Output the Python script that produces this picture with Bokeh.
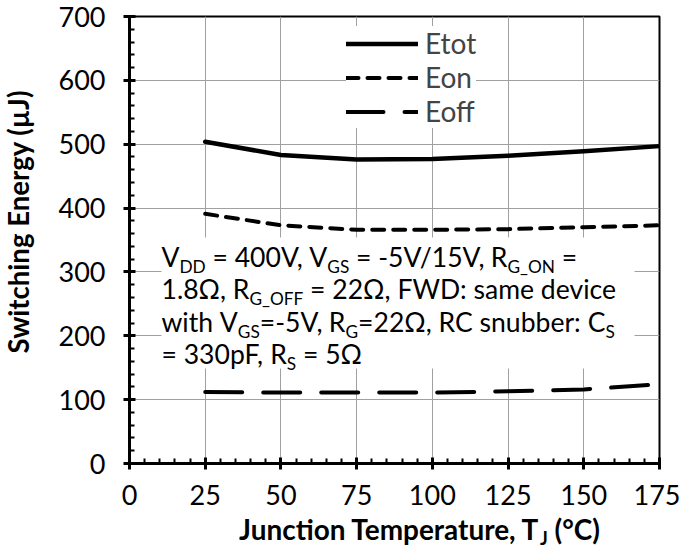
import os, glob, struct, subprocess
from math import pi
from bokeh.plotting import figure
from bokeh.layouts import row, column
from bokeh.models import (Label, Legend, LegendItem, FixedTicker, BoxAnnotation, Range1d)
from bokeh.embed import file_html
from bokeh.resources import INLINE

# ---------------- data ----------------
temps = [25, 50, 75, 100, 125, 150, 175]
etot = [504, 483, 476, 477, 482, 489, 497]
eon = [391, 373, 366, 366, 367, 370, 373]
eoff = [112, 111, 111, 111, 113, 116, 124]
series_names = ["Etot", "Eon", "Eoff"]
x_ticks = [0, 25, 50, 75, 100, 125, 150, 175]
y_ticks = [0, 100, 200, 300, 400, 500, 600, 700]
x_minor = [v for v in range(0, 176, 5)]
y_minor = [v for v in range(0, 701, 20)]
x_title = [("Junction Temperature, T", 0), ("J", 1), (" (\u00b0C)", 0)]
y_title = "Switching Energy (\u00b5J)"
note_lines = [
    [("V", 0), ("DD", 1), (" = 400V, V", 0), ("GS", 1), (" = -5V/15V, R", 0), ("G_ON", 1), (" =", 0)],
    [("1.8\u03a9, R", 0), ("G_OFF", 1), (" = 22\u03a9, FWD: same device", 0)],
    [("with V", 0), ("GS", 1), ("=-5V, R", 0), ("G", 1), ("=22\u03a9, RC snubber: C", 0), ("S", 1)],
    [("= 330pF, R", 0), ("S", 1), (" = 5\u03a9", 0)],
]


# ---------------- font metrics (for composing subscripts) ----------------
def find_font(names, fc_name):
    dirs = ["/usr/share/fonts", "/usr/local/share/fonts",
            os.path.expanduser("~/.fonts"), os.path.expanduser("~/.local/share/fonts")]
    for d in dirs:
        for n in names:
            hits = glob.glob(os.path.join(d, "**", n), recursive=True)
            if hits:
                return hits[0]
    try:
        out = subprocess.run(["fc-match", "-f", "%{file}", fc_name],
                             capture_output=True, text=True, timeout=5).stdout.strip()
        if out and os.path.exists(out):
            return out
    except Exception:
        pass
    return None


def load_metrics(path):
    try:
        data = open(path, "rb").read()
        num = struct.unpack(">H", data[4:6])[0]
        tables = {}
        for i in range(num):
            tag, cs, off, ln = struct.unpack(">4sIII", data[12 + 16 * i:28 + 16 * i])
            tables[tag.decode("latin1")] = off
        head = tables["head"]
        upem = struct.unpack(">H", data[head + 18:head + 20])[0]
        hhea = tables["hhea"]
        nhm = struct.unpack(">H", data[hhea + 34:hhea + 36])[0]
        hm = tables["hmtx"]
        adv = [struct.unpack(">H", data[hm + 4 * i:hm + 4 * i + 2])[0] for i in range(nhm)]
        cm = tables["cmap"]
        nsub = struct.unpack(">H", data[cm + 2:cm + 4])[0]
        mapping = {}
        for i in range(nsub):
            pid, eid, off = struct.unpack(">HHI", data[cm + 4 + 8 * i:cm + 12 + 8 * i])
            so = cm + off
            fmt = struct.unpack(">H", data[so:so + 2])[0]
            if fmt == 4 and not mapping:
                segx2 = struct.unpack(">H", data[so + 6:so + 8])[0]
                seg = segx2 // 2
                ends = struct.unpack(">%dH" % seg, data[so + 14:so + 14 + segx2])
                starts = struct.unpack(">%dH" % seg, data[so + 16 + segx2:so + 16 + 2 * segx2])
                deltas = struct.unpack(">%dh" % seg, data[so + 16 + 2 * segx2:so + 16 + 3 * segx2])
                rpos = so + 16 + 3 * segx2
                roffs = struct.unpack(">%dH" % seg, data[rpos:rpos + segx2])
                for s in range(seg):
                    if ends[s] - starts[s] > 3000:
                        continue
                    for c in range(starts[s], ends[s] + 1):
                        if c == 0xFFFF:
                            continue
                        if roffs[s] == 0:
                            g = (c + deltas[s]) & 0xFFFF
                        else:
                            a = rpos + 2 * s + roffs[s] + 2 * (c - starts[s])
                            g = struct.unpack(">H", data[a:a + 2])[0]
                            if g:
                                g = (g + deltas[s]) & 0xFFFF
                        mapping[c] = g
        return upem, adv, mapping
    except Exception:
        return None


REG = find_font(["Lato-Regular.ttf"], "Lato")
BLD = find_font(["Lato-Bold.ttf"], "Lato:bold")
MET_R = load_metrics(REG) if REG else None
MET_B = load_metrics(BLD) if BLD else None

# rough kerning for the few pairs that matter here (em units)
KERN = {("V", ","): -0.09, ("F", ","): -0.09, ("V", "/"): -0.05, ("/", "1"): -0.02}


def text_width(s, size, bold=False):
    met = MET_B if bold else MET_R
    if met is None:
        return len(s) * 0.52 * size
    upem, adv, mapping = met
    w = 0
    for ch in s:
        g = mapping.get(ord(ch), 0)
        if g == 0:
            w += 0.75 * upem
        else:
            w += adv[min(g, len(adv) - 1)]
    k = sum(KERN.get((a, b), 0.0) for a, b in zip(s, s[1:]))
    return (w / upem + k) * size


SUB_RATIO = 0.65
BASE_FIX = 0.37          # Bokeh's "alphabetic" label sits lower than the true baseline


def rich_width(segments, size, bold=False):
    return sum(text_width(t, size * (SUB_RATIO if s else 1), bold) for t, s in segments)


# ---------------- geometry (page pixels) ----------------
W_ALL, H_ALL = 680, 548
LEFT_W = 44
MAIN_H = 512
FL, FR, FT, FB = 129, 659, 16, 463     # frame edges on the page
FONT = "Lato"
TICK_SIZE = 27
LEG_SIZE = 28
NOTE_SIZE = 455.0 / max(rich_width(note_lines[1], 1.0), 1e-6)
NOTE_SIZE = min(max(NOTE_SIZE, 22), 30)
XT_SIZE = 365.0 / max(rich_width(x_title, 1.0, True), 1e-6)
XT_SIZE = min(max(XT_SIZE, 20), 30)
YT_SIZE = 1.05 * 252.0 / max(text_width(y_title, 1.0, True), 1e-6)
YT_SIZE = min(max(YT_SIZE, 20), 30)

p = figure(width=W_ALL - LEFT_W, height=MAIN_H, x_range=Range1d(0, 175), y_range=Range1d(0, 700),
           output_backend="svg", toolbar_location=None,
           min_border_left=FL - LEFT_W, min_border_right=W_ALL - FR,
           min_border_top=FT, min_border_bottom=MAIN_H - FB)
p.background_fill_color = "white"
p.border_fill_color = "white"
p.outline_line_color = "black"
p.outline_line_width = 2


def dx(px):
    return (px - FL) / (FR - FL) * 175


def dy(py):
    return (FB - py) / (FB - FT) * 700


for ax in (p.xaxis[0], p.yaxis[0]):
    ax.axis_line_color = "black"
    ax.axis_line_width = 3
    ax.major_tick_line_color = "black"
    ax.major_tick_line_width = 3
    ax.minor_tick_line_color = "black"
    ax.minor_tick_line_width = 2
    ax.major_tick_in = 6
    ax.major_tick_out = 6
    ax.minor_tick_in = 5
    ax.minor_tick_out = 0
    ax.major_label_text_font = FONT
    ax.major_label_text_font_size = "%gpx" % TICK_SIZE
    ax.major_label_text_color = "black"

p.xaxis[0].ticker = FixedTicker(ticks=x_ticks, minor_ticks=x_minor)
p.yaxis[0].ticker = FixedTicker(ticks=y_ticks, minor_ticks=y_minor)
p.xaxis[0].major_label_standoff = 15
p.yaxis[0].major_label_standoff = 18

p.xgrid.grid_line_color = "#a0a0a0"
p.ygrid.grid_line_color = "#a0a0a0"

r_tot = p.line(temps, etot, line_color="black", line_width=4.5, line_cap="round", line_join="round")
r_on = p.line(temps, eon, line_color="black", line_width=4, line_dash="12 9",
              line_cap="round", line_join="round")
r_off = p.line(temps, eoff, line_color="black", line_width=4, line_dash="37 21",
               line_cap="round", line_join="round")

legend = Legend(items=[LegendItem(label=series_names[0], renderers=[r_tot]),
                       LegendItem(label=series_names[1], renderers=[r_on]),
                       LegendItem(label=series_names[2], renderers=[r_off])],
                location=(351 - FL - 5, FB - 128))
legend.label_text_font = FONT
legend.label_text_font_size = "%gpx" % LEG_SIZE
legend.glyph_width = 72
legend.glyph_height = 33
legend.label_height = 33
legend.label_standoff = 7
legend.spacing = 0
legend.padding = 5
legend.margin = 0
legend.border_line_color = None
legend.background_fill_color = "white"
legend.background_fill_alpha = 1.0
p.add_layout(legend)

# white box behind the note
p.add_layout(BoxAnnotation(left=dx(161), right=dx(634), top=dy(237), bottom=dy(368),
                           fill_color="white", fill_alpha=1.0, line_color=None,
                           level="underlay"))


def put(fig, conv_x, conv_y, x, y, text, fs, bold, align):
    fig.add_layout(Label(x=conv_x(x), y=conv_y(y), text=text, text_font=FONT,
                         text_font_size="%.2fpx" % fs,
                         text_font_style="bold" if bold else "normal",
                         text_color="black", text_align=align,
                         text_baseline="alphabetic"))


def add_rich(fig, conv_x, conv_y, segments, x0, baseline, size, bold=False,
             drop=0.24, split_words=True):
    x = x0
    n = len(segments)
    for i, (t, s) in enumerate(segments):
        fs = size * (SUB_RATIO if s else 1)
        yb = baseline - BASE_FIX * fs + (size * drop if s else 0)
        w = text_width(t, fs, bold)
        stripped = t.strip()
        lead = t[:len(t) - len(t.lstrip())]
        if stripped:
            followed_by_sub = (not s) and i + 1 < n and segments[i + 1][1]
            if followed_by_sub:
                # the last word is anchored at its end so that the subscript sits
                # right next to its letter; the rest starts where it should
                body = t.rstrip()
                cut = body.rfind(" ") if split_words else -1
                if cut >= 0:
                    head_txt, last = body[:cut], body[cut + 1:]
                    hl = head_txt[:len(head_txt) - len(head_txt.lstrip())]
                    if head_txt.strip():
                        put(fig, conv_x, conv_y, x + text_width(hl, fs, bold), yb,
                            head_txt.strip(), fs, bold, "left")
                    put(fig, conv_x, conv_y, x + w, yb, last, fs, bold, "right")
                else:
                    put(fig, conv_x, conv_y, x + w, yb, body.strip(), fs, bold, "right")
            else:
                put(fig, conv_x, conv_y, x + text_width(lead, fs, bold), yb,
                    stripped, fs, bold, "left")
        x += w


baselines = [266, 298.5, 331, 363]
for segs, b in zip(note_lines, baselines):
    add_rich(p, dx, dy, segs, 161, b, NOTE_SIZE)


def plain_fig(w, h):
    f = figure(width=w, height=h, x_range=Range1d(0, w), y_range=Range1d(0, h),
               output_backend="svg", toolbar_location=None, min_border=0,
               x_axis_location=None, y_axis_location=None)
    f.outline_line_color = None
    f.grid.visible = False
    f.background_fill_color = "white"
    f.border_fill_color = "white"
    return f


# y-axis title strip (left)
pleft = plain_fig(LEFT_W, MAIN_H)
pleft.add_layout(Label(x=18, y=MAIN_H - 235, text=y_title, angle=pi / 2,
                       text_font=FONT, text_font_size="%.2fpx" % YT_SIZE, text_font_style="bold",
                       text_color="black", text_align="center", text_baseline="middle"))

# x-axis title strip (bottom)
BOT_H = H_ALL - MAIN_H
pbot = plain_fig(W_ALL, BOT_H)
xt_w = rich_width(x_title, XT_SIZE, True)
add_rich(pbot, lambda v: v, lambda v: H_ALL - v, x_title, 417 - xt_w / 2, 539, XT_SIZE,
         bold=True, drop=0.2, split_words=False)

layout = column(row(pleft, p, spacing=0), pbot, spacing=0)
open("out.html", "w").write(file_html(layout, INLINE))
